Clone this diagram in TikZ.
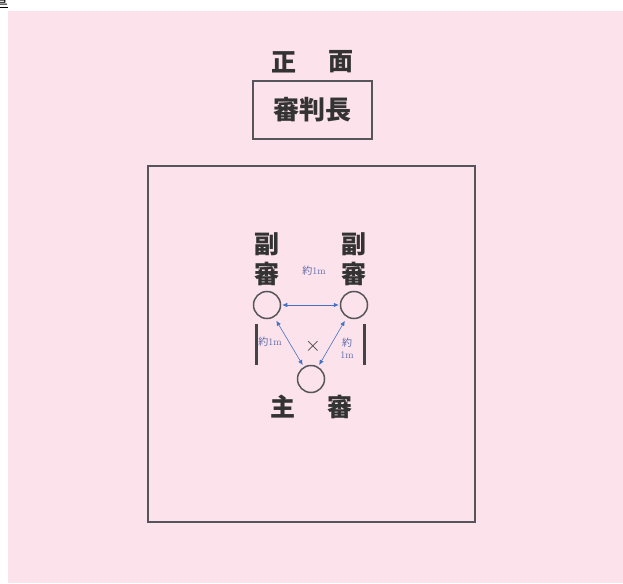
\documentclass[tikz,border=0pt]{standalone}
\usepackage{fontspec}
\newfontfamily\cjk{Noto Sans CJK JP}
\usetikzlibrary{arrows.meta}
\definecolor{bgpink}{RGB}{252,226,234}
\definecolor{linegray}{RGB}{85,85,90}
\definecolor{arrblue}{RGB}{68,114,196}
\definecolor{lblblue}{RGB}{90,105,170}
\tikzset{
  jpbig/.style={inner sep=0pt, text=black!80, font=\cjk\bfseries\fontsize{25}{25}\selectfont},
  refcircle/.style={circle, draw=linegray, line width=1.5pt, minimum size=27pt, inner sep=0pt},
  dist/.style={arrblue, line width=0.6pt, {Latex[length=5pt,width=4.5pt]}-{Latex[length=5pt,width=4.5pt]}},
  lbl/.style={inner sep=0pt, text=lblblue, font=\fontsize{10}{11}\selectfont, align=center},
  bar/.style={linegray!80!black, line width=3pt}
}
\begin{document}
\begin{tikzpicture}[x=1pt,y=-1pt]
\useasboundingbox (0,0) rectangle (623,583);
\fill[white] (0,0) rectangle (623,583);
\fill[bgpink] (8,11) rectangle (623,583);
% cut-off heading at top left
\node[anchor=base east, inner sep=0pt, font=\cjk\fontsize{16}{16}\selectfont] (head) at (8,5) {置};
\draw[line width=0.8pt] (-4,7.5) -- (8,7.5);
% front
\node[jpbig] (sho) at (284,62) {正};
\node[jpbig] (men) at (341,62) {面};
\node[draw=linegray, line width=1.2pt, minimum width=119pt, minimum height=58pt, inner sep=0pt,
      font=\cjk\bfseries\fontsize{26}{26}\selectfont, text=black!80] (chief) at (312.5,110) {審判長};
% court
\node[draw=linegray, line width=1.3pt, minimum width=327pt, minimum height=356pt, inner sep=0pt] (court) at (311.5,344) {};
% side judges labels
\node[jpbig] (lfuku) at (267,244) {副};
\node[jpbig] (lshin) at (267,274) {審};
\node[jpbig] (rfuku) at (354,244) {副};
\node[jpbig] (rshin) at (354,274) {審};
% circles
\node[refcircle] (L) at (267,305) {};
\node[refcircle] (R) at (354,305) {};
\node[refcircle] (M) at (311,379) {};
% main judge
\node[jpbig] (shu) at (283,407) {主};
\node[jpbig] (shin) at (340,407) {審};
% cross
\node[inner sep=0pt, text=black!75, font=\fontsize{20}{20}\selectfont] (cross) at (313,346) {$\times$};
% arrows
\draw[dist, shorten <=1pt, shorten >=1pt] (L) -- (R);
\draw[dist, shorten <=4pt, shorten >=2pt] (L) -- (M);
\draw[dist, shorten <=4pt, shorten >=2pt] (R) -- (M);
% labels
\node[lbl] (t1) at (314,271) {{\cjk 約}1m};
\node[lbl] (t2) at (270,342) {{\cjk 約}1m};
\node[lbl] (t3) at (347,348) {{\cjk 約}\\[1pt]1m};
% bars
\draw[bar] (256,324) -- (256,365);
\draw[bar] (364,324) -- (364,365);
\end{tikzpicture}
\end{document}
